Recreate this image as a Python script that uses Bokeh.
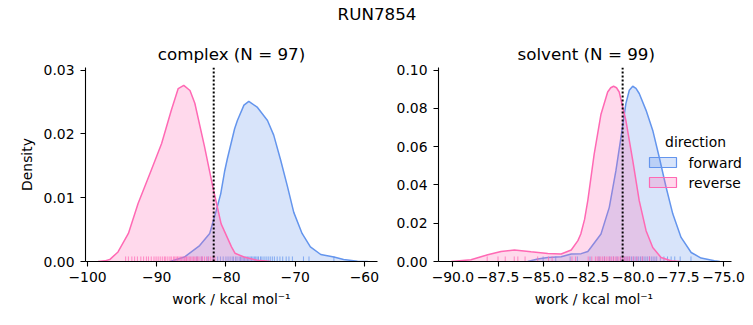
from bokeh.plotting import figure
from bokeh.layouts import column, row
from bokeh.models import Span, FixedTicker
from bokeh.embed import file_html
from bokeh.resources import INLINE
from bokeh.core.properties import value

FONT = "DejaVu Sans"
BLUE = "#6495ED"
PINK = "#FF69B4"

suptitle = "RUN7854"
panel_titles = ["complex (N = 97)", "solvent (N = 99)"]
x_label = "work / kcal mol\u207b\u00b9"
y_label = "Density"
legend_title = "direction"
series_names = ["forward", "reverse"]

# ---- complex phase: KDE curves ----
complex_fwd_x = [-88.1, -86.0, -83.8, -82.35, -81.4, -80.76, -80.2, -79.8, -78.75, -78.35, -77.4,
                 -76.7, -75.5, -74.0, -73.1, -72.1, -71.1, -70.2, -69.0, -67.8, -66.3, -64.4,
                 -63.0, -61.0, -59.5]
complex_fwd_y = [0.0, 0.0007, 0.0025, 0.0044, 0.0080, 0.0106, 0.0141, 0.0161, 0.0208, 0.0221, 0.0245,
                 0.0251, 0.0242, 0.0221, 0.0198, 0.0159, 0.0117, 0.0077, 0.0044, 0.0023, 0.0011, 0.0007,
                 0.0003, 0.00005, 0.0]
complex_rev_x = [-98.5, -97.5, -96.8, -95.6, -94.1, -92.7, -90.8, -89.3, -87.9, -86.9, -86.1,
                 -85.2, -84.5, -83.1, -81.9, -80.7, -79.2, -78.7, -77.4, -75.5, -73.5]
complex_rev_y = [0.0, 0.0001, 0.0003, 0.0015, 0.0044, 0.0091, 0.0143, 0.0185, 0.0237, 0.0271, 0.0276,
                 0.0268, 0.0248, 0.0180, 0.0117, 0.0059, 0.0023, 0.0013, 0.0007, 0.0002, 0.0]
complex_fwd_rug = [-84.2, -83.5, -82.6, -81.8, -81.2, -80.8, -80.4, -80.0, -79.7, -79.4, -79.1, -78.9,
                   -78.6, -78.4, -78.1, -77.9, -77.7, -77.5, -77.3, -77.1, -76.9, -76.7, -76.5, -76.3,
                   -76.1, -75.9, -75.7, -75.5, -75.3, -75.0, -74.8, -74.5, -74.2, -73.9, -73.6, -73.3,
                   -73.0, -72.6, -72.2, -71.8, -71.3, -70.9, -70.4, -68.8, -68.0, -64.4]
complex_rev_rug = [-94.5, -94.1, -93.6, -93.2, -92.8, -92.3, -91.9, -91.5, -91.2, -90.8, -90.4, -90.1,
                   -89.8, -89.5, -89.2, -88.9, -88.7, -88.4, -88.1, -87.9, -87.6, -87.4, -87.2, -87.0,
                   -86.8, -86.6, -86.4, -86.2, -86.0, -85.8, -85.7, -85.5, -85.3, -85.1, -84.9, -84.7,
                   -84.5, -84.3, -84.1, -83.9, -83.6, -83.4, -83.1, -82.8, -82.5, -82.2, -81.9, -81.6]
complex_estimate = -81.77

# ---- solvent phase ----
solvent_fwd_x = [-85.85, -85.3, -84.74, -84.0, -83.44, -82.89, -82.52, -82.35, -81.79, -81.33, -80.96,
                 -80.68, -80.41, -80.22, -80.03, -79.85, -79.67, -79.29, -78.92, -78.56, -78.18, -77.81,
                 -77.35, -76.79, -76.24, -75.5, -75.2]
solvent_fwd_y = [0.0, 0.0013, 0.0021, 0.0025, 0.0039, 0.0041, 0.0052, 0.0073, 0.0144, 0.0283, 0.0476,
                 0.0650, 0.0825, 0.0895, 0.0916, 0.0905, 0.0878, 0.0790, 0.0685, 0.0545, 0.0388, 0.0249,
                 0.0126, 0.0047, 0.0018, 0.0004, 0.0]
solvent_rev_x = [-90.1, -89.0, -88.07, -87.33, -86.59, -85.67, -84.74, -84.0, -83.44, -83.07, -82.91,
                 -82.7, -82.52, -82.17, -81.79, -81.42, -81.25, -81.09, -80.93, -80.78, -80.41, -80.03,
                 -79.67, -79.29, -78.92, -78.46, -77.91, -77.4]
solvent_rev_y = [0.0, 0.0009, 0.0035, 0.0052, 0.0060, 0.0051, 0.0042, 0.0039, 0.0060, 0.0109, 0.0144,
                 0.0220, 0.0320, 0.0560, 0.0770, 0.0886, 0.0908, 0.0916, 0.0908, 0.0886, 0.0738, 0.0528,
                 0.0318, 0.0161, 0.0073, 0.0021, 0.0004, 0.0]
solvent_fwd_rug = [-85.0, -84.3, -83.5, -83.1, -82.4, -81.9, -81.6, -81.3, -81.1, -80.9, -80.7, -80.5,
                   -80.4, -80.3, -80.2, -80.1, -80.0, -79.9, -79.8, -79.7, -79.6, -79.5, -79.4, -79.3,
                   -79.2, -79.1, -79.0, -78.9, -78.8, -78.7, -78.5, -78.3, -78.1, -77.9, -77.7, -77.4,
                   -76.8]
solvent_rev_rug = [-88.1, -87.5, -87.1, -86.6, -86.4, -86.0, -85.3, -84.7, -84.5, -83.4, -83.2,
                   -82.5, -82.3, -82.1, -82.0, -81.9, -81.8, -81.7, -81.6, -81.5, -81.4, -81.3, -81.2,
                   -81.1, -81.0, -80.9, -80.8, -80.7, -80.6, -80.5, -80.4, -80.3, -80.2, -80.0, -79.8,
                   -79.5, -79.1]
solvent_estimate = -80.59

# ---- ticks ----
complex_xticks = [-100, -90, -80, -70, -60]
complex_xlabels = ["\u2212100", "\u221290", "\u221280", "\u221270", "\u221260"]
complex_yticks = [0.0, 0.01, 0.02, 0.03]
complex_ylabels = ["0.00", "0.01", "0.02", "0.03"]
solvent_xticks = [-90.0, -87.5, -85.0, -82.5, -80.0, -77.5, -75.0]
solvent_xlabels = ["\u221290.0", "\u221287.5", "\u221285.0", "\u221282.5", "\u221280.0", "\u221277.5", "\u221275.0"]
solvent_yticks = [0.0, 0.02, 0.04, 0.06, 0.08, 0.10]
solvent_ylabels = ["0.00", "0.02", "0.04", "0.06", "0.08", "0.10"]

TICK_FS = "13.9px"
TITLE_FS = "16.7px"
FIG_H, BORDER_T, BORDER_B = 295, 37, 64
FRAME_H = FIG_H - BORDER_T - BORDER_B


def style_axes(p, xticks, xlabels, yticks, ylabels, show_ylabel):
    p.outline_line_color = None
    p.xgrid.visible = False
    p.ygrid.visible = False
    p.xaxis.ticker = FixedTicker(ticks=xticks)
    p.xaxis.major_label_overrides = dict(zip(xticks, xlabels))
    p.yaxis.ticker = FixedTicker(ticks=yticks)
    p.yaxis.major_label_overrides = dict(zip(yticks, ylabels))
    for ax in (p.xaxis[0], p.yaxis[0]):
        ax.axis_line_color = "black"
        ax.axis_line_width = 1.1
        ax.major_tick_line_color = "black"
        ax.major_tick_line_width = 1.1
        ax.major_tick_out = 5
        ax.major_tick_in = 0
        ax.minor_tick_line_color = None
        ax.major_label_text_font = FONT
        ax.major_label_text_font_size = TICK_FS
        ax.major_label_text_color = "black"
        ax.axis_label_text_font = FONT
        ax.axis_label_text_font_size = TICK_FS
        ax.axis_label_text_font_style = "normal"
        ax.axis_label_text_color = "black"
    p.xaxis.major_label_standoff = 5
    p.yaxis.major_label_standoff = 6
    p.xaxis.axis_label = x_label
    p.xaxis.axis_label_standoff = 6
    if show_ylabel:
        p.yaxis.axis_label = y_label
        p.yaxis.axis_label_standoff = 6
    p.title.text_font = FONT
    p.title.text_font_size = TITLE_FS
    p.title.text_font_style = "normal"
    p.title.text_color = "black"
    p.title.standoff = 7


def draw_series(p, xs, ys, rug, color, rug_h):
    p.varea(x=xs, y1=0, y2=ys, fill_color=color, fill_alpha=0.25)
    p.line(x=xs, y=ys, line_color=color, line_width=1.5)
    p.segment(x0=rug, y0=[0] * len(rug), x1=rug, y1=[rug_h] * len(rug),
              line_color=color, line_width=1, line_alpha=0.75)


def make_panel(title, xr, ytop, fwd, rev, est, ticks, width, bl, br, show_ylabel):
    p = figure(width=width, height=FIG_H, x_range=xr, y_range=(0, ytop), title=title,
               output_backend="svg", toolbar_location=None,
               min_border_left=bl, min_border_right=br, min_border_top=BORDER_T,
               min_border_bottom=BORDER_B)
    rug_h = 0.026 * ytop
    draw_series(p, fwd[0], fwd[1], fwd[2], BLUE, rug_h)
    draw_series(p, rev[0], rev[1], rev[2], PINK, rug_h)
    p.add_layout(Span(location=est, dimension="height", line_color="black",
                      line_dash="2 2", line_width=2))
    style_axes(p, *ticks, show_ylabel)
    return p


# left panel
p1 = make_panel(panel_titles[0], (-100.3, -58.1), 0.0304,
                (complex_fwd_x, complex_fwd_y, complex_fwd_rug),
                (complex_rev_x, complex_rev_y, complex_rev_rug),
                complex_estimate,
                (complex_xticks, complex_xlabels, complex_yticks, complex_ylabels),
                380, 85, 3, True)
p1.title.align = "center"

# right panel: frame extended to the right so the legend is not clipped;
# the axis line itself stops where the reference axis stops
P2_W, P2_BL, P2_BR = 373, 58, 4
P2_FRAME_W = P2_W - P2_BL - P2_BR
S_X0, S_AX_END = -90.8, -74.57
px_per_unit = 292.7 / (S_AX_END - S_X0)
S_X1 = S_X0 + P2_FRAME_W / px_per_unit
S_YTOP = 0.1014
p2 = make_panel(panel_titles[1], (S_X0, S_X1), S_YTOP,
                (solvent_fwd_x, solvent_fwd_y, solvent_fwd_rug),
                (solvent_rev_x, solvent_rev_y, solvent_rev_rug),
                solvent_estimate,
                (solvent_xticks, solvent_xlabels, solvent_yticks, solvent_ylabels),
                P2_W, P2_BL, P2_BR, False)
p2.xaxis.bounds = (S_X0, S_AX_END)
p2.title.align = "left"
p2.title.offset = 79


def to_data(sx, sy):
    # screen offsets (pixels from frame bottom-left) -> data coords of panel 2
    return S_X0 + sx / px_per_unit, sy * S_YTOP / FRAME_H


# legend drawn by hand: title centered over the entries
lx, ly = to_data(257, 120)
p2.text(x=[lx], y=[ly], text=[legend_title], text_align="center", text_baseline="middle",
        text_font=value(FONT), text_font_size=TICK_FS, text_color="black")
for i, (name, col) in enumerate(zip(series_names, [BLUE, PINK])):
    gx, gy = to_data(224.5, 99 - 20 * i)
    tx, _ = to_data(250, 0)
    p2.rect(x=[gx], y=[gy], width=27, height=10, width_units="screen", height_units="screen",
            fill_color=col, fill_alpha=0.25, line_color=col, line_width=1.2)
    p2.text(x=[tx], y=[gy], text=[name], text_align="left", text_baseline="middle",
            text_font=value(FONT), text_font_size=TICK_FS, text_color="black")

# figure-level title
pt = figure(width=753, height=30, x_range=(0, 753), y_range=(0, 30),
            output_backend="svg", toolbar_location=None, min_border=0)
pt.axis.visible = False
pt.grid.visible = False
pt.outline_line_color = None
pt.text(x=[376.5], y=[17], text=[suptitle], text_align="center", text_baseline="middle",
        text_font=value(FONT), text_font_size=TITLE_FS, text_color="black")

layout = column(pt, row(p1, p2, spacing=0), spacing=0)
open("out.html", "w").write(file_html(layout, INLINE))
